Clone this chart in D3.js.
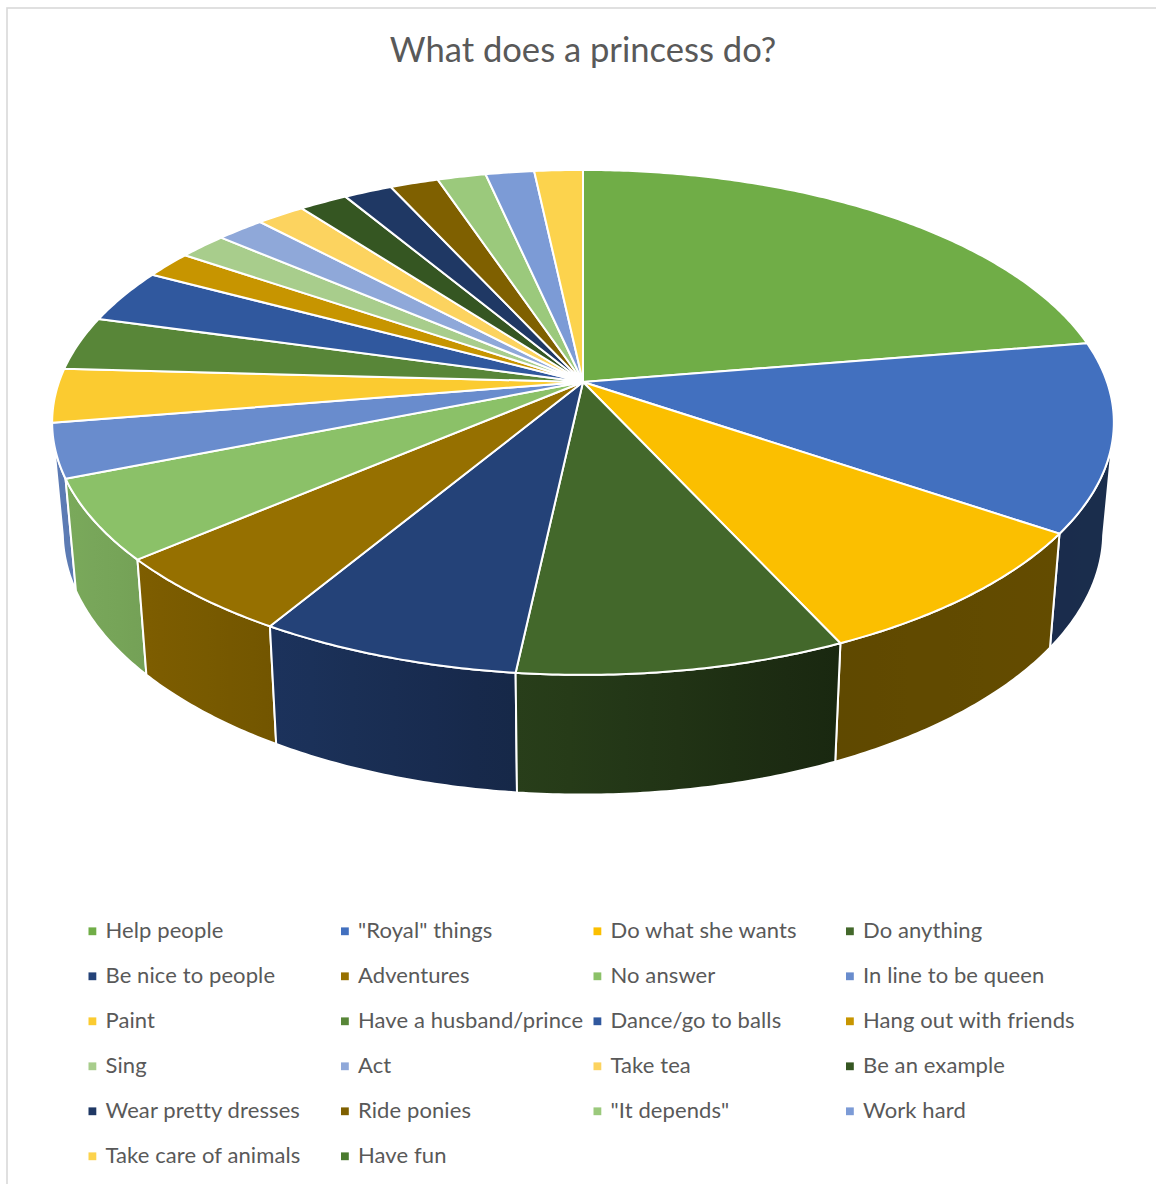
<!DOCTYPE html>
<html>
<head>
<meta charset="utf-8">
<script src="https://cdn.jsdelivr.net/npm/d3@7"></script>
<style>
  html, body { margin: 0; padding: 0; background: #fff; overflow: hidden; }
  svg { display: block; }
  text { font-family: Lato, "Open Sans", sans-serif; fill: #595959; }
</style>
</head>
<body>
<svg id="chart" width="1156" height="1184"></svg>
<script>
// Survey answers, in legend order
const categories = [
  'Help people', '"Royal" things', 'Do what she wants', 'Do anything',
  'Be nice to people', 'Adventures', 'No answer', 'In line to be queen',
  'Paint', 'Have a husband/prince', 'Dance/go to balls', 'Hang out with friends',
  'Sing', 'Act', 'Take tea', 'Be an example',
  'Wear pretty dresses', 'Ride ponies', '"It depends"', 'Work hard',
  'Take care of animals', 'Have fun'
];
const counts = [13, 7, 5, 5, 4, 3, 3, 2, 2, 2, 2, 1, 1, 1, 1, 1, 1, 1, 1, 1, 1, 0];
const colors = [
  '#70ad47', '#4270bf', '#fbbf00', '#43682b',
  '#244278', '#967000', '#8bc168', '#698ccd',
  '#fbcb30', '#588638', '#30589e', '#c79500',
  '#a8cd8c', '#8fa8d9', '#fcd35f', '#355622',
  '#1f3864', '#7f6000', '#9bc97c', '#7c9bd6',
  '#fcd34d', '#4a7a2e'
];
const chartTitle = 'What does a princess do?';

const svg = d3.select('#chart');
const defs = svg.append('defs');

// Thin frame along the top and left of the chart area
svg.append('rect')
  .attr('x', 7).attr('y', 8).attr('width', 1300).attr('height', 1300)
  .attr('fill', '#fff').attr('stroke', '#d9d9d9').attr('stroke-width', 1.6);

svg.append('text')
  .attr('x', 583).attr('y', 62)
  .attr('text-anchor', 'middle')
  .attr('font-size', 34.6)
  .text(chartTitle);

// Perspective view of the disc: the apex sits above the centre of the rim ellipse
const apex = { x: 583, y: 382 };
const persp = { a: 524, b: 246, k: 0.16 };
const wallLift = { sx: 0.98, sy: 1.04, drop: 108 };

function rimPoint(theta) {
  const X = Math.sin(theta), Y = -Math.cos(theta);
  const w = 1 - persp.k * Y;
  return [apex.x + persp.a * X / w, apex.y + persp.b * Y / w];
}
function floorPoint(theta) {
  const [x, y] = rimPoint(theta);
  return [
    apex.x + wallLift.sx * (x - apex.x),
    apex.y + wallLift.drop + wallLift.sy * (y - apex.y)
  ];
}
function sampleAngles(a0, a1) {
  const n = Math.max(2, Math.ceil((a1 - a0) / 0.01));
  return d3.range(n + 1).map(i => a0 + (a1 - a0) * i / n);
}

const arcs = d3.pie().sort(null).value(d => d)(counts)
  .map((a, i) => ({ ...a, i }));
const closedLine = d3.line().curve(d3.curveLinearClosed);

// Side wall shading falls off from the left of the disc to the right
const shade = d3.scaleLinear()
  .domain([60, 278, 517, 833, 1114])
  .range([0.88, 0.76, 0.6, 0.38, 0.4]);

// The wall is only visible between the two silhouette tangents of the rim
const wallFrom = 100 * Math.PI / 180;
const wallTo = 260 * Math.PI / 180;
const visibleWalls = arcs
  .filter(a => a.endAngle > a.startAngle && a.endAngle > wallFrom && a.startAngle < wallTo)
  .map(a => ({ ...a, a0: Math.max(a.startAngle, wallFrom), a1: Math.min(a.endAngle, wallTo) }))
  // outermost walls first, so nearer ones overlap them
  .sort((p, q) => Math.abs((q.a0 + q.a1) / 2 - Math.PI) - Math.abs((p.a0 + p.a1) / 2 - Math.PI));

const wallGroup = svg.append('g');
visibleWalls.forEach(a => {
  const angles = sampleAngles(a.a0, a.a1);
  const top = angles.map(rimPoint);
  const floor = angles.map(floorPoint).reverse();
  const xs = top.concat(floor).map(p => p[0]);
  const [x0, x1] = d3.extent(xs);
  const id = 'wall-' + a.i;
  const grad = defs.append('linearGradient')
    .attr('id', id).attr('gradientUnits', 'userSpaceOnUse')
    .attr('x1', x0).attr('x2', x1).attr('y1', 0).attr('y2', 0);
  const base = d3.rgb(colors[a.i]);
  d3.range(7).forEach(s => {
    const t = s / 6, f = shade(x0 + (x1 - x0) * t);
    grad.append('stop')
      .attr('offset', t)
      .attr('stop-color', d3.rgb(base.r * f, base.g * f, base.b * f).formatHex());
  });
  wallGroup.append('path')
    .attr('d', closedLine(top.concat(floor)))
    .attr('fill', `url(#${id})`)
    .attr('stroke', '#fff')
    .attr('stroke-width', 2)
    .attr('stroke-linejoin', 'round');
});

// Top face of the disc
svg.append('g').selectAll('path')
  .data(arcs.filter(a => a.endAngle > a.startAngle))
  .join('path')
  .attr('d', a => closedLine([[apex.x, apex.y]].concat(sampleAngles(a.startAngle, a.endAngle).map(rimPoint))))
  .attr('fill', a => colors[a.i])
  .attr('stroke', '#fff')
  .attr('stroke-width', 2)
  .attr('stroke-linejoin', 'round');

// Legend: four columns, filled row by row
const legendColumn = d3.scalePoint().domain(d3.range(4)).range([88.5, 846]);
const legendRow = d3.scalePoint().domain(d3.range(6)).range([931, 1156]);
const legend = svg.append('g').selectAll('g')
  .data(categories)
  .join('g')
  .attr('transform', (d, i) => `translate(${legendColumn(i % 4)},${legendRow(Math.floor(i / 4))})`);
legend.append('rect')
  .attr('x', 0).attr('y', -3.6).attr('width', 7.8).attr('height', 7.8)
  .attr('fill', (d, i) => colors[i]);
legend.append('text')
  .attr('x', 17).attr('y', 7)
  .attr('font-size', 22)
  .attr('letter-spacing', 0.1)
  .text(d => d);
</script>
</body>
</html>
